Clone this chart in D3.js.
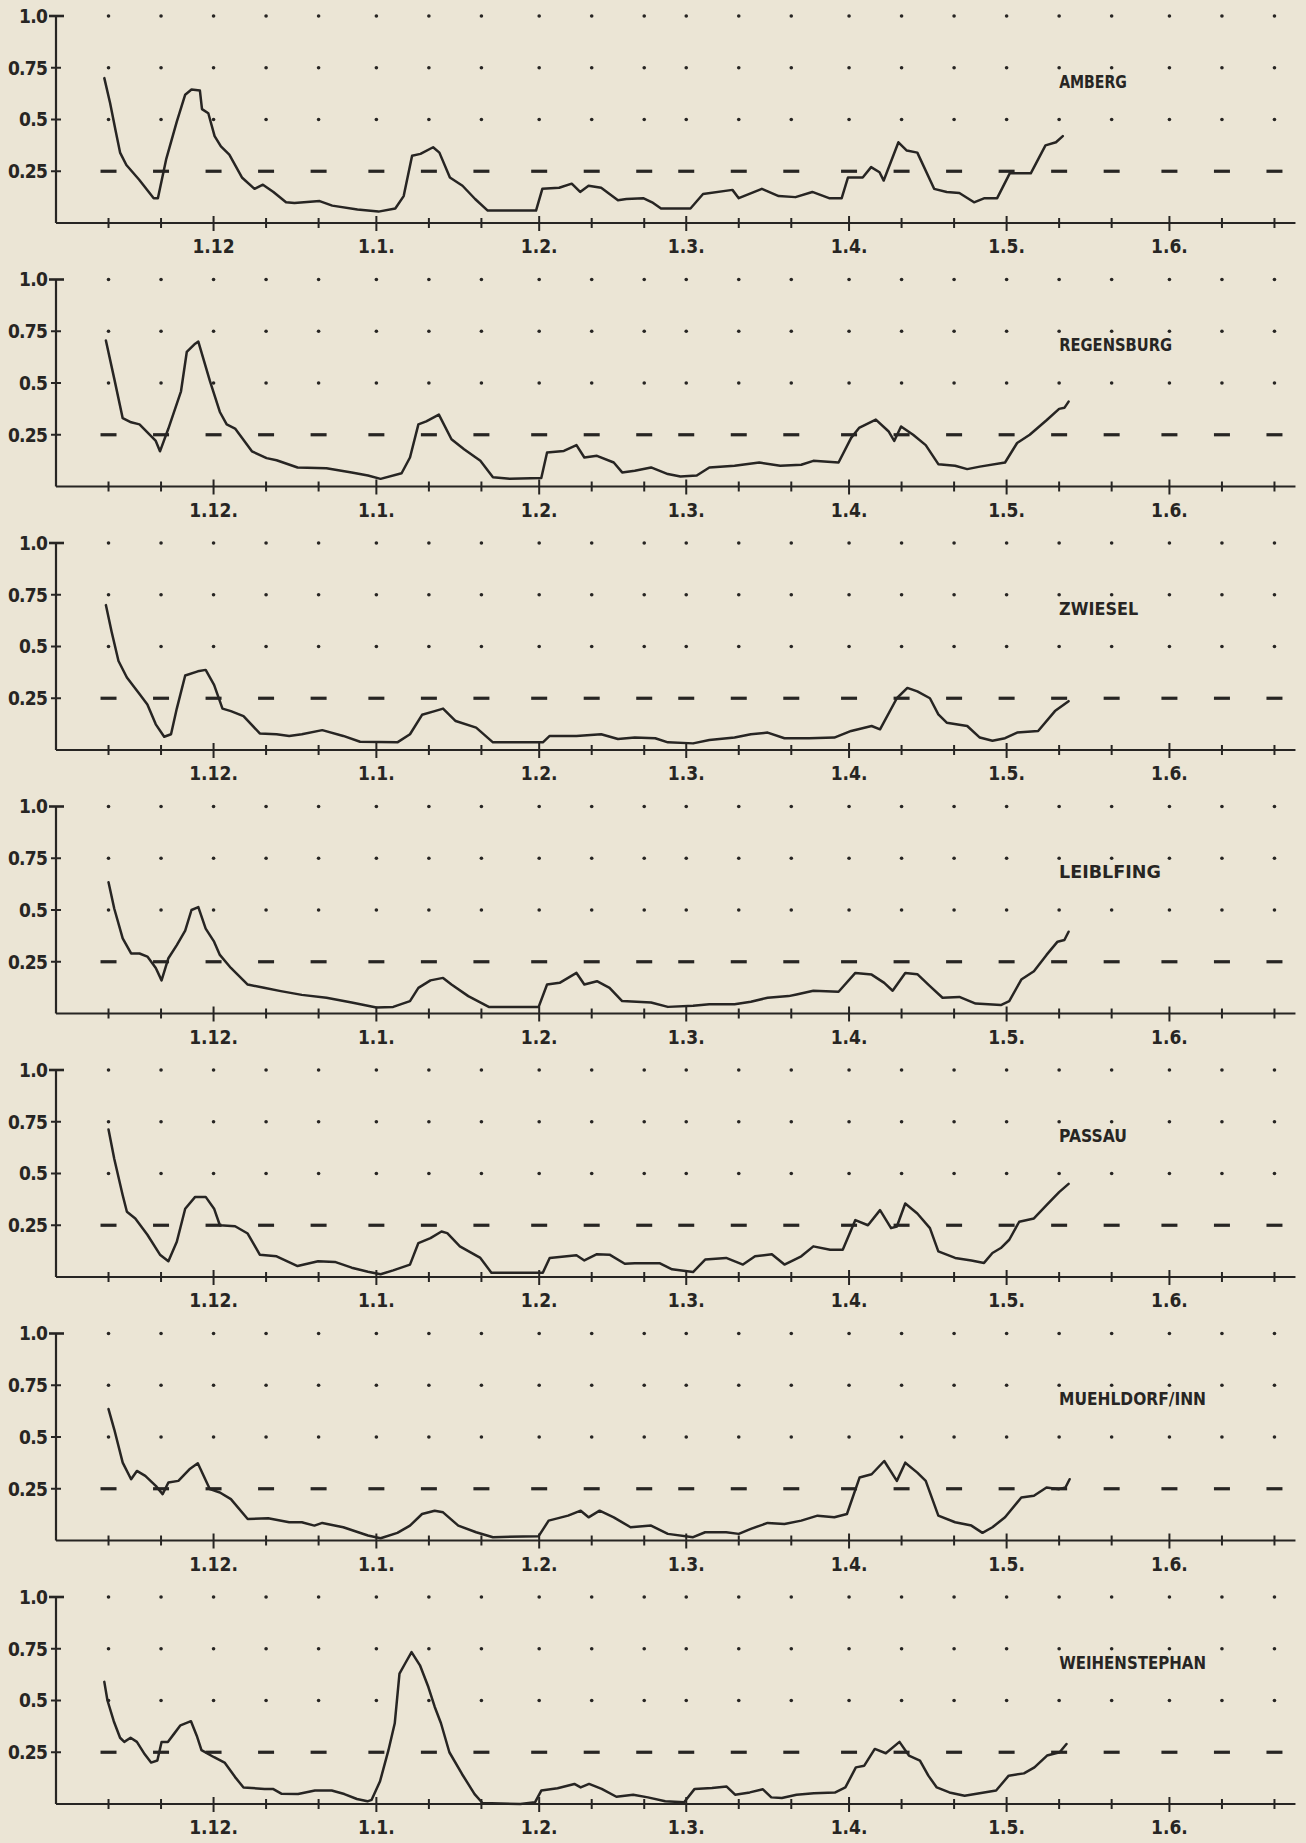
<!DOCTYPE html>
<html><head><meta charset="utf-8">
<script src="https://cdn.jsdelivr.net/npm/d3@7"></script>
<style>
html,body{margin:0;padding:0;background:#ebe5d5;}
svg{display:block;}
</style></head><body>
<svg id="chart" width="1306" height="1843"></svg>
<script>
// ---- data (day = days since 1 Nov, value) ----
const stations = ["AMBERG","REGENSBURG","ZWIESEL","LEIBLFING","PASSAU","MUEHLDORF/INN","WEIHENSTEPHAN"];

const amberg = [[9.2,0.70],[10.3,0.58],[11.4,0.44],[12.2,0.34],[13.4,0.28],[15.8,0.21],[18.6,0.12],[19.4,0.12],[21,0.31],[23,0.49],[24.6,0.62],[25.8,0.645],[27.4,0.64],[27.8,0.55],[29,0.53],[30.2,0.42],[31.4,0.37],[33,0.33],[35.4,0.22],[37.8,0.165],[39.4,0.185],[41.4,0.15],[43.8,0.10],[45.4,0.097],[50.2,0.106],[52.6,0.084],[57.4,0.065],[61.4,0.055],[64.6,0.07],[66.2,0.13],[67.8,0.325],[69.4,0.334],[71.8,0.366],[73,0.34],[75,0.22],[77.4,0.18],[79.8,0.116],[82.2,0.06],[91.4,0.06],[92.6,0.165],[95.8,0.17],[98.2,0.19],[99.8,0.15],[101.4,0.18],[103.8,0.17],[105.4,0.14],[107,0.11],[108.6,0.116],[111.8,0.12],[113.5,0.10],[115.2,0.07],[120.8,0.07],[123.2,0.14],[128.8,0.16],[130,0.12],[134.4,0.165],[137.6,0.13],[140.8,0.125],[144,0.15],[147.2,0.12],[149.6,0.12],[150.8,0.22],[153.6,0.22],[155.2,0.27],[156.8,0.245],[157.6,0.205],[160.4,0.39],[162,0.35],[164,0.34],[167.2,0.165],[169.6,0.15],[172,0.145],[174.8,0.10],[176.8,0.12],[179.2,0.12],[181.6,0.24],[185.6,0.24],[188.4,0.375],[190.4,0.39],[191.7,0.42]];

const regensburg = [[9.5,0.705],[11.1,0.52],[12.7,0.33],[14.3,0.31],[15.9,0.30],[19,0.22],[19.8,0.17],[21.4,0.28],[23.8,0.46],[24.9,0.65],[26.5,0.69],[27.1,0.70],[29.3,0.51],[31.2,0.36],[32.5,0.30],[34.1,0.28],[37.3,0.17],[40.1,0.137],[42,0.127],[46,0.092],[51.5,0.088],[56.3,0.068],[59.4,0.053],[61.8,0.037],[65.8,0.064],[67.4,0.14],[69,0.30],[70.5,0.315],[72.9,0.347],[75.3,0.228],[77.7,0.18],[80.8,0.124],[83.2,0.045],[86.4,0.037],[92.4,0.041],[93.5,0.164],[96.7,0.172],[99.1,0.20],[100.6,0.14],[103,0.148],[106.2,0.116],[107.8,0.068],[110.2,0.076],[113.3,0.092],[116.5,0.06],[118.9,0.048],[122,0.053],[124.4,0.092],[129.2,0.10],[133.9,0.116],[137.9,0.10],[141.9,0.105],[144.2,0.124],[149,0.116],[151.4,0.235],[152.9,0.283],[156.1,0.323],[158.5,0.267],[159.6,0.22],[160.9,0.29],[163.2,0.25],[165.6,0.20],[168,0.108],[171.2,0.10],[173.5,0.084],[175.9,0.096],[180.7,0.116],[183,0.21],[185.4,0.25],[188.6,0.32],[191,0.375],[192,0.38],[192.8,0.41]];

const zwiesel = [[9.5,0.70],[10.6,0.57],[11.9,0.43],[13.5,0.35],[15.9,0.27],[17.4,0.22],[19,0.124],[20.6,0.064],[21.9,0.076],[23,0.20],[24.6,0.36],[27,0.38],[28.5,0.387],[30.1,0.315],[31.7,0.20],[33.3,0.188],[35.7,0.164],[38.8,0.08],[42,0.076],[44.4,0.068],[46.8,0.076],[50.7,0.096],[54.7,0.068],[57.9,0.04],[65,0.037],[67.4,0.076],[69.7,0.17],[72.1,0.188],[73.7,0.20],[76.1,0.14],[80,0.108],[83.2,0.037],[92.7,0.037],[94,0.068],[99.1,0.068],[103.8,0.076],[107,0.053],[110.2,0.06],[114.1,0.057],[116.5,0.037],[121.3,0.032],[124.4,0.048],[129.2,0.06],[132.3,0.076],[135.5,0.084],[138.7,0.057],[143.4,0.057],[148.2,0.06],[151.4,0.092],[155.3,0.116],[156.9,0.10],[160.1,0.25],[162.1,0.30],[164,0.283],[166.4,0.25],[168,0.172],[169.6,0.132],[173.5,0.116],[175.9,0.06],[178.3,0.045],[180.7,0.057],[183,0.084],[187,0.092],[190.2,0.188],[192.8,0.236]];

const leiblfing = [[10,0.634],[11.1,0.506],[12.7,0.363],[14.3,0.29],[15.9,0.29],[17.4,0.275],[19,0.22],[20.1,0.16],[21.4,0.267],[23,0.33],[24.6,0.40],[25.8,0.50],[27.1,0.514],[28.5,0.41],[30.1,0.347],[31.2,0.283],[33.3,0.22],[36.5,0.14],[39.6,0.124],[42.8,0.108],[46.8,0.09],[51.5,0.076],[56.3,0.053],[61,0.029],[64.2,0.032],[67.4,0.06],[69,0.124],[71.3,0.16],[73.7,0.172],[75.3,0.14],[78.5,0.084],[82.4,0.032],[91.9,0.032],[93.5,0.14],[95.9,0.148],[99.1,0.196],[100.6,0.14],[103,0.156],[105.4,0.124],[107.8,0.06],[113.3,0.053],[116.5,0.032],[121.3,0.037],[124.4,0.045],[129.2,0.045],[132.3,0.057],[135.5,0.076],[139.5,0.084],[141,0.092],[144.2,0.11],[149,0.105],[152.2,0.196],[155.3,0.188],[157.7,0.148],[159.3,0.11],[161.7,0.196],[164,0.19],[166.4,0.132],[168.8,0.076],[172,0.08],[175.1,0.048],[179.9,0.041],[181.5,0.06],[183.8,0.164],[186.2,0.204],[188.6,0.283],[190.7,0.347],[192,0.355],[192.8,0.395]];

const passau = [[10,0.713],[11.1,0.57],[12.7,0.395],[13.5,0.315],[15.1,0.283],[17.4,0.204],[19.8,0.108],[21.4,0.076],[23,0.17],[24.6,0.33],[26.5,0.387],[28.5,0.387],[30.1,0.33],[31.2,0.25],[34.1,0.245],[36.5,0.21],[38.8,0.108],[42,0.10],[46,0.053],[49.9,0.076],[53.1,0.073],[56.3,0.045],[59.4,0.025],[61.8,0.013],[64.2,0.032],[67.4,0.06],[69,0.164],[71.3,0.188],[73.4,0.22],[74.5,0.212],[76.9,0.148],[80.8,0.092],[82.9,0.021],[92.7,0.021],[94,0.092],[99.1,0.105],[100.6,0.08],[103,0.11],[105.4,0.108],[108.3,0.064],[110.2,0.067],[114.9,0.067],[117.3,0.037],[121.3,0.024],[123.6,0.084],[127.6,0.092],[130.8,0.06],[133.1,0.10],[136.3,0.11],[138.7,0.06],[141.9,0.10],[144.2,0.148],[147.4,0.132],[149.8,0.132],[152.2,0.275],[154.6,0.25],[156.9,0.323],[159,0.236],[160.1,0.244],[161.7,0.355],[164,0.307],[166.4,0.236],[168,0.124],[171.2,0.092],[174.3,0.08],[176.7,0.068],[178.3,0.116],[179.9,0.14],[181.5,0.18],[183.4,0.267],[186.2,0.283],[188.6,0.347],[191,0.41],[192.8,0.45]];

const muehldorf = [[10,0.635],[11.1,0.536],[12.7,0.376],[14.3,0.296],[15.4,0.336],[17,0.312],[19,0.264],[20.3,0.224],[21.4,0.28],[23.3,0.288],[25.4,0.344],[27,0.373],[29.3,0.248],[31.2,0.232],[33.3,0.20],[36.5,0.104],[40.4,0.107],[44.4,0.088],[46.8,0.088],[49.2,0.072],[50.7,0.085],[54.7,0.064],[59.4,0.024],[61.8,0.011],[65,0.037],[67.4,0.072],[69.7,0.128],[72.1,0.144],[73.7,0.136],[76.6,0.072],[80,0.04],[83.2,0.016],[91.9,0.021],[93.8,0.096],[97.5,0.12],[99.9,0.144],[101.4,0.112],[103.5,0.144],[106.2,0.112],[109.4,0.064],[113.3,0.072],[116.5,0.032],[121.3,0.016],[123.6,0.04],[127.6,0.04],[130,0.032],[132.3,0.056],[135.5,0.085],[138.7,0.08],[141.9,0.096],[145,0.12],[148.2,0.112],[150.6,0.128],[153,0.304],[155.3,0.32],[157.7,0.384],[160.1,0.288],[161.7,0.376],[164,0.328],[165.6,0.288],[168,0.12],[171.2,0.088],[174.3,0.072],[176.4,0.037],[178.3,0.064],[180.7,0.112],[183.8,0.208],[186.2,0.216],[188.6,0.256],[191,0.248],[192.2,0.256],[193,0.296]];

const weihenstephan = [[9.2,0.59],[9.8,0.50],[11,0.40],[12.2,0.32],[13,0.30],[14.2,0.32],[15.4,0.30],[16.9,0.24],[18.1,0.20],[19.3,0.21],[20.1,0.30],[21.3,0.30],[22.5,0.34],[23.7,0.38],[25.7,0.40],[26.8,0.33],[27.7,0.26],[30.1,0.226],[32.1,0.20],[34.1,0.13],[35.7,0.08],[39.7,0.073],[41.3,0.073],[42.9,0.05],[46.1,0.048],[49.3,0.065],[52.5,0.065],[54.9,0.048],[57.3,0.024],[59.3,0.013],[60.1,0.02],[61.7,0.11],[63.3,0.26],[64.5,0.39],[65.4,0.63],[66.5,0.68],[67.7,0.734],[69.3,0.67],[70.9,0.565],[72.1,0.47],[73.3,0.39],[74.9,0.25],[77.3,0.145],[79.7,0.048],[81.2,0.005],[88.4,0.0],[91.2,0.008],[92.4,0.065],[95.5,0.076],[98.7,0.097],[99.9,0.08],[101.5,0.097],[103.9,0.073],[106.7,0.035],[109.9,0.045],[112.7,0.032],[116,0.013],[119.6,0.008],[121.6,0.073],[124.9,0.077],[127.7,0.084],[129.3,0.045],[132.1,0.056],[134.6,0.071],[136.2,0.032],[138.2,0.029],[141,0.045],[144.3,0.052],[148.3,0.055],[150.3,0.08],[152.3,0.177],[153.9,0.185],[155.9,0.266],[158,0.245],[160.6,0.30],[162.4,0.234],[164.5,0.21],[166.1,0.137],[167.7,0.08],[170.1,0.056],[173,0.04],[175,0.048],[179,0.065],[181.4,0.137],[184.3,0.148],[186.3,0.177],[188.7,0.234],[191.1,0.25],[192.4,0.29]];

const seriesList = [amberg, regensburg, zwiesel, leiblfing, passau, muehldorf, weihenstephan];

const yTicks = [1.0, 0.75, 0.5, 0.25];
const yTickLabels = ["1.0", "0.75", "0.5", "0.25"];
const dotLevels = [1.0, 0.75, 0.5];
const threshold = 0.25;
const monthTickLabels = ["1.12.", "1.1.", "1.2.", "1.3.", "1.4.", "1.5.", "1.6."];
const firstPanelMonthLabels = ["1.12", "1.1.", "1.2.", "1.3.", "1.4.", "1.5.", "1.6."];

// ---- layout ----
const startDate = new Date(1986, 10, 1);
const endDate = new Date(1987, 5, 25);
const labelDate = new Date(1987, 4, 11);
const ink = "#272523";
const font = "'DejaVu Sans Condensed','Liberation Sans Narrow','DejaVu Sans',sans-serif";

const totalDays = d3.timeDay.count(startDate, endDate);
const x = d3.scaleLinear().domain([0, totalDays]).range([56, 56 + 5.252 * totalDays]);

// ticks at 1st, 11th, 21st of each month
const tickDays = [];
const monthDays = [];
d3.timeMonth.range(startDate, endDate).forEach(m => {
  [1, 11, 21].forEach(dd => {
    const dt = new Date(m.getFullYear(), m.getMonth(), dd);
    const n = d3.timeDay.count(startDate, dt);
    if (n > 0 && n < totalDays - 1) {
      tickDays.push(n);
      if (dd === 1) monthDays.push(n);
    }
  });
});

const svg = d3.select("#chart");
svg.append("rect").attr("width", 1306).attr("height", 1843).attr("fill", "#ebe5d5");

const panelH = 207;
const panelStep = 263.5;

stations.forEach((name, k) => {
  const top = 16 + panelStep * k;
  const y = d3.scaleLinear().domain([0, 1]).range([top + panelH, top]);
  const g = svg.append("g");

  // dot grid
  dotLevels.forEach(lv => {
    g.selectAll(null).data(tickDays).enter().append("circle")
      .attr("cx", d => x(d)).attr("cy", y(lv)).attr("r", 1.8).attr("fill", ink);
  });
  // dashed threshold line
  g.selectAll(null).data(tickDays).enter().append("line")
    .attr("x1", d => x(d) - 8).attr("x2", d => x(d) + 8)
    .attr("y1", y(threshold)).attr("y2", y(threshold))
    .attr("stroke", ink).attr("stroke-width", 3.2);

  // y axis
  g.append("line").attr("x1", x(0)).attr("x2", x(0)).attr("y1", y(1)).attr("y2", y(0))
    .attr("stroke", ink).attr("stroke-width", 2.2);
  yTicks.forEach((t, i) => {
    const top1 = t === 1;
    g.append("line")
      .attr("x1", x(0) - (top1 ? 7 : 5)).attr("x2", x(0) + (top1 ? 8 : 5))
      .attr("y1", y(t)).attr("y2", y(t))
      .attr("stroke", ink).attr("stroke-width", top1 ? 2.6 : 2);
    g.append("text").attr("x", x(0) - 9).attr("y", y(t))
      .attr("dy", "0.36em").attr("text-anchor", "end")
      .attr("font-family", font).attr("font-weight", "bold").attr("font-size", 19)
      .attr("letter-spacing", "-0.8").attr("fill", ink).text(yTickLabels[i]);
  });

  // x axis
  g.append("line").attr("x1", x(0)).attr("x2", x(totalDays)).attr("y1", y(0)).attr("y2", y(0))
    .attr("stroke", ink).attr("stroke-width", 2.2);
  g.selectAll(null).data(tickDays).enter().append("line")
    .attr("x1", d => x(d)).attr("x2", d => x(d))
    .attr("y1", d => y(0) - (monthDays.includes(d) ? 7 : 5))
    .attr("y2", d => y(0) + (monthDays.includes(d) ? 8 : 5))
    .attr("stroke", ink).attr("stroke-width", 2);
  const labs = k === 0 ? firstPanelMonthLabels : monthTickLabels;
  g.selectAll(null).data(monthDays).enter().append("text")
    .attr("x", d => x(d)).attr("y", y(0) + 30)
    .attr("text-anchor", "middle")
    .attr("font-family", font).attr("font-weight", "bold").attr("font-size", 19)
    .attr("fill", ink).text((d, i) => labs[i]);

  // curve
  const line = d3.line().x(d => x(d[0])).y(d => y(d[1]));
  g.append("path").datum(seriesList[k]).attr("d", line)
    .attr("fill", "none").attr("stroke", ink).attr("stroke-width", 2.5)
    .attr("stroke-linejoin", "round").attr("stroke-linecap", "round");

  // station label
  g.append("text")
    .attr("x", x(d3.timeDay.count(startDate, labelDate)))
    .attr("y", y(0.75) + 14).attr("dy", "0.36em")
    .attr("font-family", font).attr("font-weight", "bold").attr("font-size", 17)
    .attr("textLength", name.length * 11.3).attr("lengthAdjust", "spacingAndGlyphs")
    .attr("fill", ink).text(name);
});
</script>
</body></html>
